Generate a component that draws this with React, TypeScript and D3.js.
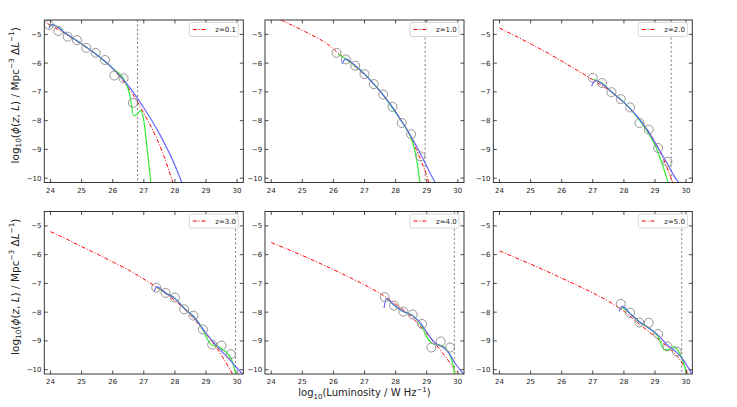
import * as d3 from "d3";
import React from "react";

type Pt = [number, number];

const redshiftLabels = ["z=0.1", "z=1.0", "z=2.0", "z=3.0", "z=4.0", "z=5.0"];
const lumLimits = [26.8, 28.95, 29.52, 29.95, 29.89, 29.86];
const xTicks = [24, 25, 26, 27, 28, 29, 30];
const yTicks = [-5, -6, -7, -8, -9, -10];

// z = 0.1
const obsZ01: Pt[] = [[23.95, -4.67], [24.25, -4.88], [24.55, -5.08], [24.85, -5.2], [25.15, -5.47], [25.45, -5.64], [25.75, -5.89], [26.05, -6.43], [26.35, -6.53], [26.65, -7.38]];
const modelZ01: Pt[] = [[23.9, -4.62], [24, -4.68], [24.5, -5.0], [25, -5.35], [25.5, -5.73], [26, -6.2], [26.5, -6.85], [26.8, -7.35], [27, -7.75], [27.3, -8.35], [27.6, -9.1], [27.95, -10.2]];
const fitZ01: Pt[] = [[23.95, -4.78], [24.05, -4.66], [24.5, -4.98], [25, -5.33], [25.5, -5.72], [26, -6.18], [26.5, -6.78], [27, -7.55], [27.5, -8.45], [28, -9.55], [28.24, -10.2]];
const altZ01: Pt[] = [[23.95, -4.72], [24.05, -4.66], [24.5, -4.98], [25, -5.33], [25.5, -5.72], [26, -6.18], [26.4, -6.65], [26.55, -7.1], [26.67, -7.82], [26.76, -7.8], [26.9, -7.65], [27.0, -8.0], [27.1, -8.9], [27.23, -10.2]];

// z = 1.0
const obsZ10: Pt[] = [[26.1, -5.64], [26.4, -5.87], [26.7, -6.09], [27.0, -6.38], [27.3, -6.73], [27.6, -7.09], [27.9, -7.52], [28.2, -8.08], [28.5, -8.47], [28.8, -9.24]];
const modelZ10: Pt[] = [[24.32, -4.5], [24.8, -4.75], [25.3, -5.02], [25.8, -5.33], [26.1, -5.6], [26.5, -5.95], [27, -6.4], [27.5, -6.97], [28, -7.7], [28.5, -8.6], [28.8, -9.35], [29.0, -9.9], [29.08, -10.2]];
const fitZ10: Pt[] = [[26.27, -6.02], [26.4, -5.86], [26.7, -6.08], [27.0, -6.38], [27.3, -6.73], [27.6, -7.1], [27.9, -7.53], [28.2, -8.03], [28.5, -8.55], [28.8, -9.15], [29.1, -9.8], [29.3, -10.2]];
const altZ10: Pt[] = [[26.15, -5.68], [26.4, -5.86], [27, -6.38], [27.5, -6.97], [28, -7.72], [28.3, -8.2], [28.5, -8.6], [28.6, -8.95], [28.7, -9.5], [28.79, -10.2]];

// z = 2.0
const obsZ20: Pt[] = [[27.0, -6.51], [27.3, -6.69], [27.6, -7.01], [27.9, -7.25], [28.2, -7.54], [28.5, -8.08], [28.8, -8.31], [29.1, -8.95], [29.4, -9.43]];
const modelZ20: Pt[] = [[24, -4.78], [24.5, -5.05], [25, -5.33], [25.5, -5.62], [26, -5.93], [26.5, -6.25], [27, -6.58], [27.5, -6.93], [28, -7.38], [28.5, -7.95], [29, -8.75], [29.3, -9.4], [29.5, -9.95], [29.59, -10.2]];
const fitZ20: Pt[] = [[26.96, -6.8], [27.08, -6.6], [27.3, -6.72], [27.6, -7.0], [27.9, -7.27], [28.2, -7.58], [28.5, -7.95], [28.8, -8.4], [29.1, -8.95], [29.4, -9.5], [29.6, -9.9], [29.8, -10.2]];
const altZ20: Pt[] = [[27.0, -6.55], [27.3, -6.7], [27.6, -7.0], [27.9, -7.27], [28.2, -7.58], [28.5, -7.98], [28.8, -8.45], [29.0, -8.85], [29.2, -9.4], [29.35, -9.9], [29.44, -10.2]];

// z = 3.0
const obsZ30: Pt[] = [[27.4, -7.15], [27.7, -7.33], [28.0, -7.49], [28.3, -7.9], [28.6, -8.12], [28.9, -8.6], [29.2, -9.13], [29.5, -9.16], [29.8, -9.46]];
const modelZ30: Pt[] = [[24, -5.2], [24.5, -5.45], [25, -5.72], [25.5, -5.98], [26, -6.25], [26.5, -6.53], [27, -6.85], [27.5, -7.2], [28, -7.6], [28.5, -8.1], [29, -8.75], [29.5, -9.5], [29.88, -10.2]];
const fitZ30: Pt[] = [[27.33, -7.27], [27.42, -7.12], [27.7, -7.33], [28.0, -7.52], [28.3, -7.87], [28.6, -8.15], [28.9, -8.58], [29.2, -9.0], [29.5, -9.35], [29.8, -9.7], [30.0, -9.95], [30.22, -10.2]];
const altZ30: Pt[] = [[27.42, -7.12], [27.7, -7.33], [28.0, -7.52], [28.3, -7.87], [28.6, -8.15], [28.9, -8.6], [29.05, -8.95], [29.2, -9.15], [29.4, -9.2], [29.6, -9.35], [29.8, -9.6], [29.9, -9.9], [29.96, -10.2]];

// z = 4.0
const obsZ40: Pt[] = [[27.65, -7.48], [27.95, -7.77], [28.25, -7.98], [28.55, -8.08], [28.85, -8.41], [29.15, -9.23], [29.45, -9.02], [29.75, -9.23]];
const modelZ40: Pt[] = [[24, -5.58], [24.5, -5.8], [25, -6.03], [25.5, -6.27], [26, -6.52], [26.5, -6.78], [27, -7.05], [27.5, -7.35], [28, -7.72], [28.5, -8.15], [29, -8.75], [29.5, -9.4], [30.03, -10.2]];
const fitZ40: Pt[] = [[27.63, -7.85], [27.7, -7.53], [27.95, -7.75], [28.25, -7.98], [28.55, -8.12], [28.85, -8.45], [29.1, -8.85], [29.3, -9.1], [29.5, -9.2], [29.7, -9.4], [29.9, -9.75], [30.22, -10.2]];
const altZ40: Pt[] = [[27.7, -7.53], [27.95, -7.75], [28.25, -7.98], [28.55, -8.12], [28.85, -8.5], [29.0, -8.85], [29.2, -9.1], [29.45, -9.15], [29.6, -9.25], [29.75, -9.5], [29.85, -9.85], [29.91, -10.2]];

// z = 5.0
const obsZ50: Pt[] = [[27.9, -7.71], [28.2, -8.02], [28.5, -8.36], [28.8, -8.37], [29.1, -8.76], [29.4, -9.19], [29.7, -9.37]];
const modelZ50: Pt[] = [[24, -5.87], [24.5, -6.1], [25, -6.33], [25.5, -6.57], [26, -6.82], [26.5, -7.07], [27, -7.33], [27.5, -7.62], [28, -7.97], [28.5, -8.42], [29, -8.85], [29.5, -9.3], [29.8, -9.65], [30.1, -10.2]];
const fitZ50: Pt[] = [[27.85, -7.97], [27.95, -7.8], [28.2, -8.05], [28.5, -8.33], [28.8, -8.55], [29.1, -8.8], [29.4, -9.15], [29.7, -9.4], [29.9, -9.65], [30.22, -10.2]];
const altZ50: Pt[] = [[27.93, -7.82], [28.2, -8.05], [28.5, -8.35], [28.8, -8.55], [29.1, -8.85], [29.3, -9.3], [29.45, -9.3], [29.6, -9.2], [29.75, -9.35], [29.9, -9.7], [30.03, -10.2]];

const panels = [
  { obs: obsZ01, model: modelZ01, fit: fitZ01, alt: altZ01 },
  { obs: obsZ10, model: modelZ10, fit: fitZ10, alt: altZ10 },
  { obs: obsZ20, model: modelZ20, fit: fitZ20, alt: altZ20 },
  { obs: obsZ30, model: modelZ30, fit: fitZ30, alt: altZ30 },
  { obs: obsZ40, model: modelZ40, fit: fitZ40, alt: altZ40 },
  { obs: obsZ50, model: modelZ50, fit: fitZ50, alt: altZ50 },
];

const W = 737;
const H = 407;
const colLeft = [44.3, 265, 493.3];
const rowTop = [20, 211.5];
const pw = 199;
const ph = 162.5;
const FONT = "DejaVu Sans, sans-serif";

function Panel({ i }: { i: number }) {
  const p = panels[i];
  const left = colLeft[i % 3];
  const top = rowTop[Math.floor(i / 3)];
  const x = d3.scaleLinear().domain([23.8, 30.2]).range([left, left + pw]);
  const y = d3.scaleLinear().domain([-10.15, -4.5]).range([top + ph, top]);
  const line = d3
    .line<Pt>()
    .x((d) => x(d[0]))
    .y((d) => y(d[1]))
    .curve(d3.curveMonotoneX);
  const clip = `clip${i}`;
  const tick = 3.5;
  const lgW = 49;
  const lgH = 14;
  const lgX = left + pw - lgW - 5;
  const lgY = top + 2.5;
  const showY = i % 3 === 0;

  return (
    <g>
      <defs>
        <clipPath id={clip}>
          <rect x={left} y={top} width={pw} height={ph} />
        </clipPath>
      </defs>
      <g clipPath={`url(#${clip})`}>
        <line x1={x(lumLimits[i])} x2={x(lumLimits[i])} y1={top} y2={top + ph} stroke="#555" strokeWidth={0.8} strokeDasharray="2,2.4" />
        <path d={line(p.model) ?? ""} fill="none" stroke="#ff0000" strokeWidth={1} strokeDasharray="4,1.8,1,1.8" />
        <path d={line(p.alt) ?? ""} fill="none" stroke="#33ee33" strokeWidth={1.2} />
        <path d={line(p.fit) ?? ""} fill="none" stroke="#5555ff" strokeOpacity={0.9} strokeWidth={1.2} />
        {p.obs.map((d, k) => (
          <circle key={k} cx={x(d[0])} cy={y(d[1])} r={4.5} fill="none" stroke="#8a8a8a" strokeWidth={0.9} />
        ))}
      </g>
      <rect x={left} y={top} width={pw} height={ph} fill="none" stroke="#222" strokeWidth={0.9} />
      {xTicks.map((t) => (
        <g key={`x${t}`}>
          <line x1={x(t)} x2={x(t)} y1={top + ph} y2={top + ph - tick} stroke="#222" strokeWidth={0.8} />
          <line x1={x(t)} x2={x(t)} y1={top} y2={top + tick} stroke="#222" strokeWidth={0.8} />
          <text x={x(t)} y={top + ph + 10.3} fontSize={7} fontFamily={FONT} textAnchor="middle" fill="#222">
            {t}
          </text>
        </g>
      ))}
      {yTicks.map((t) => (
        <g key={`y${t}`}>
          <line x1={left} x2={left + tick} y1={y(t)} y2={y(t)} stroke="#222" strokeWidth={0.8} />
          <line x1={left + pw} x2={left + pw - tick} y1={y(t)} y2={y(t)} stroke="#222" strokeWidth={0.8} />
          <text x={left - 2.8} y={y(t) + 2.5} fontSize={7} fontFamily={FONT} textAnchor="end" fill="#222">
            {`\u2212${Math.abs(t)}`}
          </text>
        </g>
      ))}
      <rect x={lgX} y={lgY} width={lgW} height={lgH} rx={1.5} fill="#fff" fillOpacity={0.85} stroke="#cccccc" strokeWidth={0.8} />
      <line x1={lgX + 3.5} x2={lgX + 18} y1={lgY + lgH / 2} y2={lgY + lgH / 2} stroke="#ff0000" strokeWidth={1} strokeDasharray="4,1.8,1,1.8" />
      <text x={lgX + 26} y={lgY + lgH / 2 + 2.5} fontSize={7} fontFamily={FONT} fill="#222">
        {redshiftLabels[i]}
      </text>
      {showY && (
        <text
          transform={`translate(15,${top + ph / 2 - 6}) rotate(-90)`}
          textAnchor="middle"
          dominantBaseline="central"
          fontSize={10.5}
          fontFamily={FONT}
          fill="#222"
        >
          log
          <tspan fontSize={7.3} dy={2.5}>10</tspan>
          <tspan dy={-2.5}>(</tspan>
          <tspan fontStyle="italic">ϕ</tspan>(<tspan fontStyle="italic">z</tspan>, <tspan fontStyle="italic">L</tspan>) / Mpc
          <tspan fontSize={7.3} dy={-4}>−3</tspan>
          <tspan dy={4}> Δ</tspan>
          <tspan fontStyle="italic">L</tspan>
          <tspan fontSize={7.3} dy={-4}>−1</tspan>
          <tspan dy={4}>)</tspan>
        </text>
      )}
    </g>
  );
}

export default function App() {
  return (
    <svg width={W} height={H} style={{ position: "absolute", left: 0, top: 0, background: "#fff" }}>
      {panels.map((_, i) => (
        <Panel key={i} i={i} />
      ))}
      <text x={colLeft[1] + pw / 2} y={396} textAnchor="middle" fontSize={10} fontFamily={FONT} fill="#222">
        log
        <tspan fontSize={7} dy={2.5}>10</tspan>
        <tspan dy={-2.5}>(Luminosity / W Hz</tspan>
        <tspan fontSize={7} dy={-4}>−1</tspan>
        <tspan dy={4}>)</tspan>
      </text>
    </svg>
  );
}
